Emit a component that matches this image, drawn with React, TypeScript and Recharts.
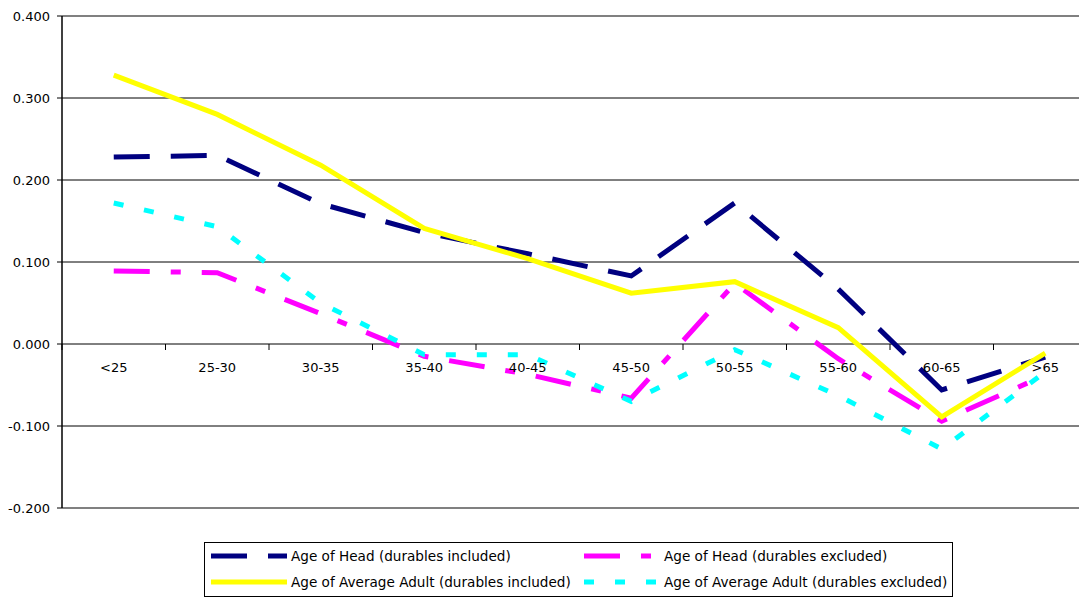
import React from 'react';
import {
  LineChart,
  Line,
  XAxis,
  YAxis,
  CartesianGrid,
  ReferenceLine,
} from 'recharts';

const categories = ['<25', '25-30', '30-35', '35-40', '40-45', '45-50', '50-55', '55-60', '60-65', '>65'];

const headIncluded = [0.228, 0.23, 0.171, 0.136, 0.11, 0.083, 0.172, 0.067, -0.056, -0.016];
const headExcluded = [0.089, 0.087, 0.037, -0.015, -0.037, -0.066, 0.074, -0.018, -0.094, -0.038];
const adultIncluded = [0.328, 0.28, 0.218, 0.141, 0.104, 0.062, 0.076, 0.02, -0.089, -0.011];
const adultExcluded = [0.172, 0.143, 0.05, -0.013, -0.013, -0.07, -0.007, -0.063, -0.128, -0.034];

const yTicks = [-0.2, -0.1, 0, 0.1, 0.2, 0.3, 0.4];
const gridValues = [-0.1, 0.1, 0.2, 0.3];

// drawn in this order (later ones on top), legend reads row by row
const SERIES = [
  { key: 'headIncl', name: 'Age of Head (durables included)', values: headIncluded, color: '#000080', dash: '36 21' },
  { key: 'headExcl', name: 'Age of Head (durables excluded)', values: headExcluded, color: '#ff00ff', dash: '36 21 10 21' },
  { key: 'adultIncl', name: 'Age of Average Adult (durables included)', values: adultIncluded, color: '#ffff00', dash: undefined },
  { key: 'adultExcl', name: 'Age of Average Adult (durables excluded)', values: adultExcluded, color: '#00ffff', dash: '10 21' },
];

const FONT = '"DejaVu Sans", Arial, sans-serif';

const CHART_W = 1089;
const CHART_H = 591;
const Y_AXIS_W = 54;
const MARGIN = { top: 8, right: 0, bottom: 61, left: 0 };
const X_AXIS_H = 30;
const PLOT_W = CHART_W - Y_AXIS_W - MARGIN.left - MARGIN.right;
const PLOT_H = CHART_H - MARGIN.top - MARGIN.bottom - X_AXIS_H;
const HALF_BAND = PLOT_W / categories.length / 2;
const Y_MIN = -0.2;
const Y_MAX = 0.4;
const ZERO_Y = MARGIN.top + (PLOT_H * Y_MAX) / (Y_MAX - Y_MIN);

const data = categories.map((cat, i) => {
  const row: Record<string, any> = { cat };
  SERIES.forEach((s) => {
    row[s.key] = s.values[i];
  });
  return row;
});

// category labels sit under the zero line, tick marks between categories
const CategoryTick = ({ x, payload, index }: any) => {
  return (
    <g>
      <line x1={x - HALF_BAND} x2={x - HALF_BAND} y1={ZERO_Y} y2={ZERO_Y + 6} stroke="#000" />
      {index === categories.length - 1 && (
        <line x1={x + HALF_BAND} x2={x + HALF_BAND} y1={ZERO_Y} y2={ZERO_Y + 6} stroke="#000" />
      )}
      <text x={x} y={ZERO_Y + 23} textAnchor="middle" dominantBaseline="central" fontSize={13} fontFamily={FONT} fill="#000">
        {payload.value}
      </text>
    </g>
  );
};

function LegendBox() {
  const cols = [6, 379];
  const rows = [13, 39];
  return (
    <div
      style={{
        position: 'absolute',
        left: 196,
        top: 534,
        width: 749,
        height: 55,
        boxSizing: 'border-box',
        border: '1px solid #000',
        background: '#fff',
        fontFamily: FONT,
        fontSize: 13.6,
        color: '#000',
      }}
    >
      {SERIES.map((s, i) => (
        <div
          key={s.key}
          style={{
            position: 'absolute',
            left: cols[i % 2],
            top: rows[Math.floor(i / 2)] - 9,
            height: 18,
            display: 'flex',
            alignItems: 'center',
            whiteSpace: 'nowrap',
          }}
        >
          <svg width={76} height={18} style={{ marginRight: 4 }}>
            <line x1={0} x2={76} y1={9} y2={9} stroke={s.color} strokeWidth={5} strokeDasharray={s.dash} />
          </svg>
          <span>{s.name}</span>
        </div>
      ))}
    </div>
  );
}

export default function App() {
  return (
    <div style={{ position: 'relative', width: 1079, height: CHART_H, overflow: 'hidden', background: '#fff' }}>
      <LineChart width={CHART_W} height={CHART_H} data={data} margin={MARGIN}>
        <CartesianGrid vertical={false} horizontalValues={gridValues} stroke="#000" strokeWidth={1} />
        <ReferenceLine y={0.4} stroke="#808080" strokeWidth={2} />
        <ReferenceLine y={-0.2} stroke="#808080" strokeWidth={2} />
        <ReferenceLine y={0} stroke="#000" strokeWidth={1} />
        <XAxis
          dataKey="cat"
          height={X_AXIS_H}
          axisLine={false}
          tickLine={false}
          interval={0}
          padding={{ left: HALF_BAND, right: HALF_BAND }}
          tick={<CategoryTick />}
        />
        <YAxis
          width={Y_AXIS_W}
          domain={[Y_MIN, Y_MAX]}
          ticks={yTicks}
          interval={0}
          allowDataOverflow
          tickFormatter={(v: number) => v.toFixed(3)}
          axisLine={{ stroke: '#000', strokeWidth: 1.5 }}
          tickLine={{ stroke: '#000' }}
          tickSize={5}
          tickMargin={7}
          tick={{ fontSize: 13, fontFamily: FONT, fill: '#000' }}
        />
        {SERIES.map((s) => (
          <Line
            key={s.key}
            type="linear"
            dataKey={s.key}
            name={s.name}
            stroke={s.color}
            strokeWidth={5}
            strokeDasharray={s.dash}
            dot={false}
            activeDot={false}
            isAnimationActive={false}
          />
        ))}
      </LineChart>
      <LegendBox />
    </div>
  );
}
